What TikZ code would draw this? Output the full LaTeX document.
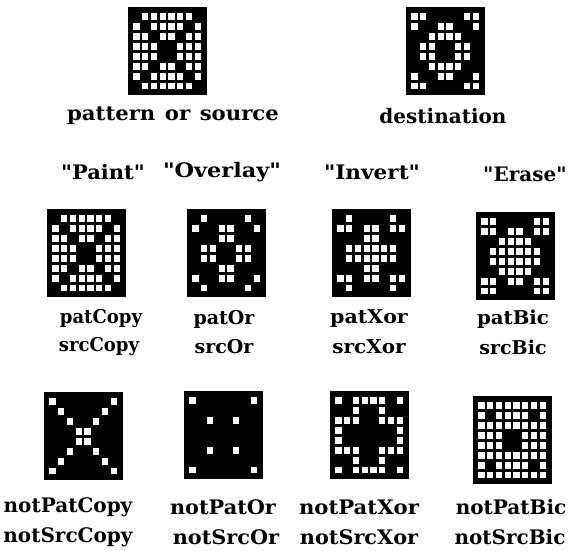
\documentclass[tikz,border=0pt]{standalone}
\usepackage{fontspec}
\setmainfont{DejaVu Serif}[Ligatures=TeXOff]
\tikzset{
  x=1pt, y=-1pt,
  boxnode/.style={fill=black, draw=black, line width=1pt, minimum width=78pt, minimum height=87pt, inner sep=0pt},
  toplab/.style={font=\fontsize{20}{23}\selectfont\bfseries, inner sep=0pt, anchor=center},
  lab/.style={font=\fontsize{19}{22}\selectfont\bfseries, inner sep=0pt, anchor=center},
  biglab/.style={font=\fontsize{20}{23}\selectfont\bfseries, inner sep=0pt, anchor=center},
}
% #1 name, #2 x, #3 y, #4 truth table code
\newcommand\modebox[4]{%
  \node[boxnode] (#1) at (#2,#3) {};
  \foreach \r/\sr/\dr in {1/129/60, 2/66/102, 3/36/195, 4/24/153, 5/24/153, 6/36/195, 7/66/102, 8/129/60} {
    \foreach \c in {1,...,8} {
      \pgfmathtruncatemacro\sb{mod(floor(\sr/2^(8-\c)+0.001),2)}
      \pgfmathtruncatemacro\db{mod(floor(\dr/2^(8-\c)+0.001),2)}
      \pgfmathtruncatemacro\bl{mod(floor(#4/2^(2*\sb+\db)+0.001),2)}
      \ifnum\bl=0
        \fill[white] ({#2-35+(\c-1)*8.75+1.3},{#3-39.5+(\r-1)*9.94+1.5}) rectangle ++(6.2,6.9);
      \fi
    }
  }
}
\newcommand\sx[2]{\scalebox{#1}[1]{#2}}
\begin{document}
\begin{tikzpicture}
\useasboundingbox (0,0) rectangle (569,550);
% sources
\modebox{src}{167}{51}{12}
\modebox{dst}{445}{51}{10}
\node[toplab] (tsrc) at (173,116) {\sx{1.06}{pattern\hspace{9pt}or\hspace{9pt}source}};
\node[toplab] (tdst) at (443,116) {destination};
% mode names
\node[toplab] (qpaint) at (103,172) {\sx{1.05}{"Paint"}};
\node[toplab] (qover) at (222,172) {\sx{1.12}{"Overlay"}};
\node[toplab] (qinv) at (372,172) {\sx{1.08}{"Invert"}};
\node[toplab] (qerase) at (525,174) {\sx{1.0}{"Erase"}};
% row 1
\modebox{pcopy}{86}{253}{12}
\modebox{por}{226}{253}{14}
\modebox{pxor}{371}{253}{6}
\modebox{pbic}{515}{256}{2}
\node[lab] (lpcopy) at (101,319) {\sx{0.95}{patCopy}};
\node[lab] (lscopy) at (99,347) {\sx{0.95}{srcCopy}};
\node[lab] (lpor) at (224,319) {patOr};
\node[lab] (lsor) at (224,347) {srcOr};
\node[lab] (lpxor) at (369,319) {\sx{1.08}{patXor}};
\node[lab] (lsxor) at (369,347) {\sx{1.05}{srcXor}};
\node[lab] (lpbic) at (513,319) {\sx{1.04}{patBic}};
\node[lab] (lsbic) at (513,347) {srcBic};
% row 2
\modebox{npcopy}{83}{436}{3}
\modebox{npor}{223}{435}{11}
\modebox{npxor}{369}{435}{9}
\modebox{npbic}{512}{440}{8}
\node[biglab] (lnpcopy) at (68,507) {notPatCopy};
\node[biglab] (lnscopy) at (68,537) {notSrcCopy};
\node[biglab] (lnpor) at (223,507) {\sx{1.04}{notPatOr}};
\node[biglab] (lnsor) at (226,537) {\sx{1.04}{notSrcOr}};
\node[biglab] (lnpxor) at (359,507) {\sx{1.06}{notPatXor}};
\node[biglab] (lnsxor) at (359,537) {\sx{1.04}{notSrcXor}};
\node[biglab] (lnpbic) at (511,507) {notPatBic};
\node[biglab] (lnsbic) at (510,537) {notSrcBic};
\end{tikzpicture}
\end{document}
